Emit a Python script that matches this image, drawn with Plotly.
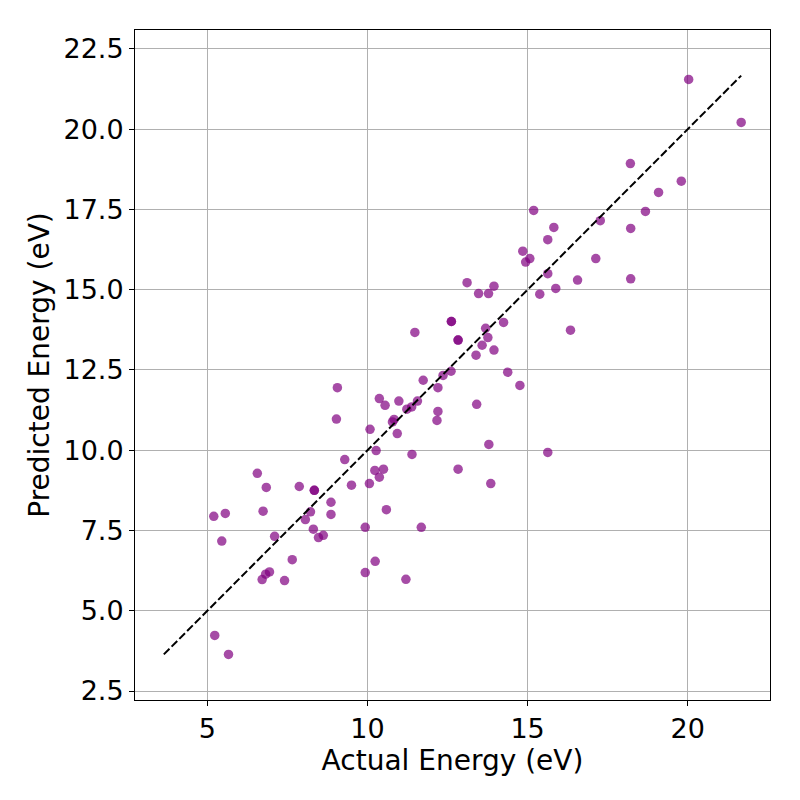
import plotly.graph_objects as go

actual = [20.03, 21.67, 18.21, 19.80, 19.09, 15.19, 18.68, 17.27, 15.82, 18.22,
          15.63, 14.85, 15.07, 14.94, 17.13, 15.63, 18.22, 16.56, 13.11, 13.95,
          13.47, 13.78, 15.38, 15.88, 12.62, 12.62, 14.25, 11.48, 16.34, 13.69,
          13.76, 12.83, 12.83, 13.58, 13.95, 13.39, 12.61, 12.36, 14.38, 11.74,
          14.76, 9.06, 12.20, 10.37, 10.98, 11.56, 10.55, 13.41, 11.38, 11.23,
          12.20, 10.83, 10.78, 9.03, 12.17, 10.08, 10.93, 13.79, 10.27, 15.63,
          11.39, 9.29, 6.56, 12.83, 10.23, 10.50, 10.37, 6.84, 7.87, 9.50,
          10.06, 13.85, 8.34, 8.34, 8.86, 10.59, 6.74, 8.22, 8.86, 5.56,
          5.20, 8.06, 8.31, 9.93, 11.68, 5.45, 7.10, 8.47, 8.62, 7.65,
          10.24, 6.82, 6.94, 9.93, 6.71, 7.41, 11.20, 5.23, 5.66]
predicted = [21.55, 20.21, 18.93, 18.38, 18.03, 17.47, 17.44, 17.15, 16.94, 16.91,
             16.56, 16.20, 15.97, 15.86, 15.97, 15.50, 15.34, 15.30, 15.22, 15.11,
             14.88, 14.88, 14.86, 15.04, 14.01, 14.01, 13.98, 13.67, 13.74, 13.80,
             13.51, 13.43, 13.43, 13.27, 13.12, 12.96, 12.46, 12.33, 12.43, 12.18,
             12.02, 11.95, 11.95, 11.61, 11.53, 11.53, 11.40, 11.43, 11.35, 11.28,
             11.21, 10.96, 10.88, 10.97, 10.93, 10.65, 10.52, 10.18, 9.99, 9.93,
             9.87, 9.71, 9.28, 9.41, 9.37, 9.41, 9.16, 8.84, 8.87, 8.91,
             8.96, 8.96, 8.75, 8.75, 8.38, 8.15, 8.10, 8.08, 8.00, 8.03,
             7.94, 7.84, 7.54, 7.60, 7.60, 7.17, 7.32, 7.28, 7.35, 6.59,
             6.54, 6.14, 6.21, 6.19, 5.97, 5.94, 5.98, 4.23, 3.64]

lo = min(min(actual), min(predicted))
hi = max(max(actual), max(predicted))
ident = [lo, hi]

FONT = "DejaVu Sans"

fig = go.Figure()
fig.add_trace(go.Scatter(
    x=actual, y=predicted, mode="markers",
    marker=dict(color="purple", size=9.5, opacity=0.7, line=dict(width=0)),
    showlegend=False, hoverinfo="skip"))
fig.add_trace(go.Scatter(
    x=ident, y=ident, mode="lines",
    line=dict(color="black", width=2, dash="8px,3px"),
    showlegend=False, hoverinfo="skip"))

axis_common = dict(
    showgrid=True, gridcolor="#b0b0b0", gridwidth=1,
    showline=True, linecolor="black", linewidth=1, mirror=True,
    ticks="outside", ticklen=5, tickwidth=1, tickcolor="black",
    tickfont=dict(family=FONT, size=27, color="black"),
    zeroline=False, automargin=False,
)

fig.update_layout(
    width=800, height=800,
    paper_bgcolor="white", plot_bgcolor="white",
    margin=dict(l=127, r=38, t=22, b=108),
    font=dict(family=FONT, color="black"),
    xaxis=dict(range=[2.74, 22.57], tickvals=[5, 10, 15, 20],
               ticktext=["5", "10", "15", "20"],
               title=dict(text="Actual Energy (eV)", font=dict(family=FONT, size=28), standoff=0),
               **axis_common),
    yaxis=dict(range=[2.22, 23.09], tickvals=[2.5, 5, 7.5, 10, 12.5, 15, 17.5, 20, 22.5],
               ticktext=["2.5", "5.0", "7.5", "10.0", "12.5", "15.0", "17.5", "20.0", "22.5"],
               title=dict(text="Predicted Energy (eV)", font=dict(family=FONT, size=28), standoff=5),
               **axis_common),
)

fig.write_html("out.html")
